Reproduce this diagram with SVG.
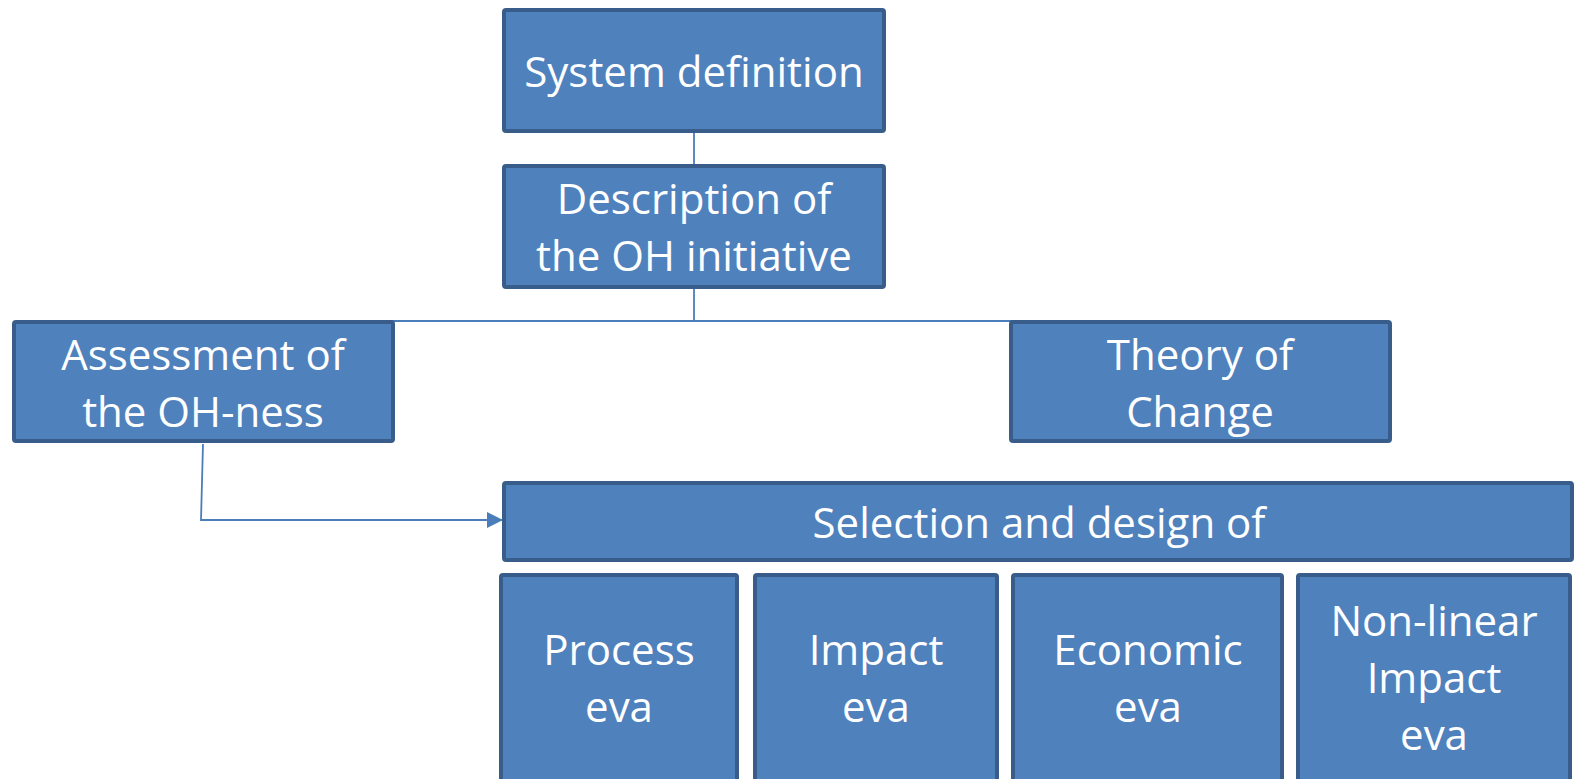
<svg xmlns="http://www.w3.org/2000/svg" width="1575" height="779" viewBox="0 0 1575 779">
<style>
.box{fill:#4F81BD;stroke:#385D8A;stroke-width:4}
.t{font-family:"Open Sans","Liberation Sans",sans-serif;font-size:42px;fill:#FFFFFF;text-anchor:middle}
.c{stroke:#4A7EBB;stroke-width:1.8;fill:none}
</style>
<defs>
<marker id="arr" markerWidth="16" markerHeight="16" refX="15" refY="8" orient="auto" markerUnits="userSpaceOnUse">
<path d="M0,0 L16,8 L0,16 Z" fill="#4A7EBB"/>
</marker>
</defs>
<g id="connectors">
<line class="c" x1="694" y1="132" x2="694" y2="164"/>
<line class="c" x1="694" y1="289" x2="694" y2="321"/>
<line class="c" x1="362" y1="321" x2="1020" y2="321"/>
<polyline class="c" points="203,444 201,520 502,520" marker-end="url(#arr)"/>
</g>
<g id="system">
<rect class="box" x="504" y="10" width="380" height="121" rx="2"/>
<text class="t" x="694" y="87">System definition</text>
</g>
<g id="description">
<rect class="box" x="504" y="166" width="380" height="121" rx="2"/>
<text class="t" x="694" y="214">Description of</text>
<text class="t" x="694" y="271">the OH initiative</text>
</g>
<g id="assessment">
<rect class="box" x="14" y="322" width="379" height="119" rx="2"/>
<text class="t" x="203" y="370">Assessment of</text>
<text class="t" x="203" y="427">the OH-ness</text>
</g>
<g id="theory">
<rect class="box" x="1011" y="322" width="379" height="119" rx="2"/>
<text class="t" x="1200" y="370">Theory of</text>
<text class="t" x="1200" y="427">Change</text>
</g>
<g id="selection">
<rect class="box" x="504" y="483" width="1068" height="77" rx="2"/>
<text class="t" x="1039" y="538">Selection and design of</text>
</g>
<g id="process">
<rect class="box" x="501" y="575" width="236" height="210" rx="2"/>
<text class="t" x="619" y="665">Process</text>
<text class="t" x="619" y="722">eva</text>
</g>
<g id="impact">
<rect class="box" x="755" y="575" width="242" height="210" rx="2"/>
<text class="t" x="876" y="665">Impact</text>
<text class="t" x="876" y="722">eva</text>
</g>
<g id="economic">
<rect class="box" x="1013" y="575" width="269" height="210" rx="2"/>
<text class="t" x="1148" y="665">Economic</text>
<text class="t" x="1148" y="722">eva</text>
</g>
<g id="nonlinear">
<rect class="box" x="1298" y="575" width="272" height="210" rx="2"/>
<text class="t" x="1434" y="636">Non-linear</text>
<text class="t" x="1434" y="693">Impact</text>
<text class="t" x="1434" y="750">eva</text>
</g>
</svg>
